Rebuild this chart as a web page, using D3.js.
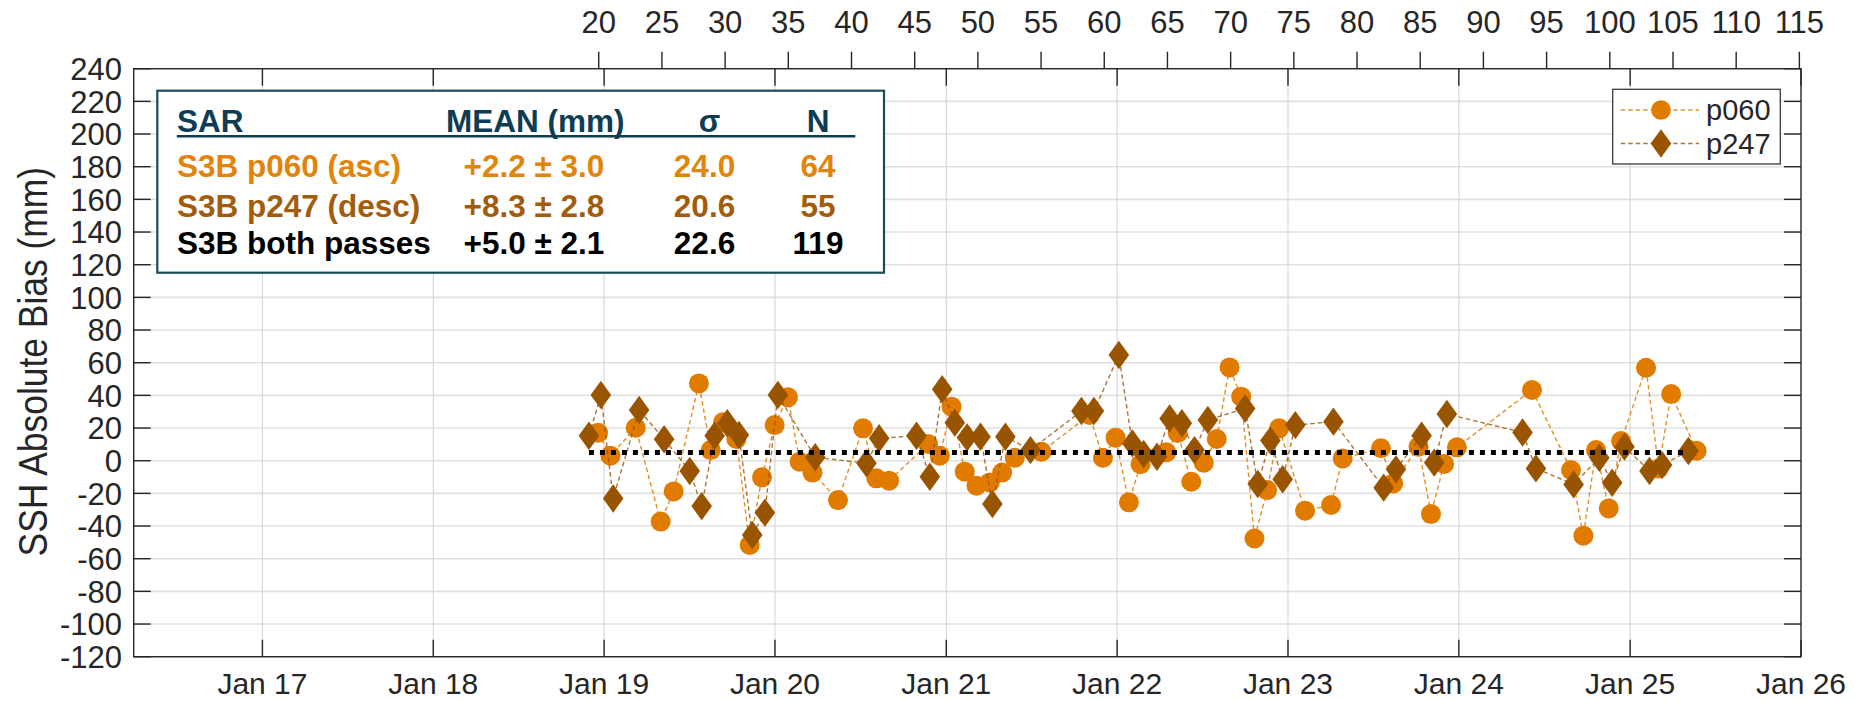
<!DOCTYPE html>
<html>
<head>
<meta charset="utf-8">
<script src="https://cdn.jsdelivr.net/npm/d3@7"></script>
<style>
  html, body { margin: 0; padding: 0; background: #ffffff; }
  svg { display: block; }
  text { font-family: "Liberation Sans", Arial, Helvetica, sans-serif; }
</style>
</head>
<body>
<svg id="chart" width="1855" height="701"></svg>
<script>
// ---------------- DATA ----------------
// pass p060 (ascending): observation time (decimal year) and SSH bias (mm)
const p060Dates = [2018.965, 2019.037, 2019.185, 2019.331, 2019.407, 2019.555, 2019.624, 2019.696, 2019.774, 2019.852,
  2019.924, 2019.998, 2020.076, 2020.144, 2020.219, 2020.368, 2020.514, 2020.592, 2020.666, 2020.894,
  2020.962, 2021.031, 2021.108, 2021.177, 2021.255, 2021.327, 2021.401, 2021.557, 2021.839, 2021.917,
  2021.991, 2022.069, 2022.137, 2022.288, 2022.355, 2022.434, 2022.507, 2022.583, 2022.658, 2022.726,
  2022.804, 2022.878, 2022.948, 2023.100, 2023.252, 2023.320, 2023.544, 2023.616, 2023.764, 2023.837,
  2023.914, 2023.989, 2024.427, 2024.655, 2024.727, 2024.801, 2024.875, 2024.947, 2025.093, 2025.167,
  2025.240, 2025.389];
const p060Bias = [17.1, 3.1, 20.2, -37.3, -18.8, 47.3, 6.5, 23.5, 13.3, -51.6,
  -10.2, 21.8, 38.8, -0.6, -7.3, -24.1, 19.8, -10.8, -12.2, 10.2,
  3.1, 33.1, -6.7, -15.3, -13.3, -7.3, 1.8, 5.5, 28.0, 1.8,
  14.1, -25.5, -2.2, 5.1, 17.0, -12.9, -1.2, 13.3, 57.1, 39.2,
  -47.6, -18.0, 19.8, -30.6, -27.1, 1.4, 7.6, -13.9, 8.6, -32.7,
  -2.0, 8.2, 43.3, -5.7, -45.9, 6.5, -29.2, 12.0, 56.9, -4.7,
  40.8, 6.1];

// pass p247 (descending)
const p247Dates = [2018.911, 2018.981, 2019.053, 2019.205, 2019.351, 2019.501, 2019.571, 2019.647, 2019.721, 2019.789,
  2019.867, 2019.941, 2020.017, 2020.235, 2020.534, 2020.608, 2020.826, 2020.904, 2020.976, 2021.050,
  2021.122, 2021.200, 2021.270, 2021.346, 2021.493, 2021.791, 2021.864, 2022.010, 2022.089, 2022.155,
  2022.233, 2022.307, 2022.379, 2022.453, 2022.531, 2022.749, 2022.823, 2022.897, 2022.969, 2023.043,
  2023.266, 2023.560, 2023.632, 2023.782, 2023.856, 2023.930, 2024.372, 2024.450, 2024.670, 2024.820,
  2024.895, 2024.967, 2025.113, 2025.187, 2025.341];
const p247Bias = [15.3, 40.2, -23.1, 31.0, 13.1, -6.3, -27.8, 15.3, 22.9, 15.7,
  -45.5, -31.8, 40.2, 2.1, -1.6, 13.7, 15.3, -9.8, 43.7, 23.3,
  14.3, 14.7, -26.5, 14.7, 6.5, 30.4, 30.4, 64.7, 10.6, 4.1,
  2.4, 25.9, 22.9, 6.5, 24.9, 32.0, -14.3, 12.3, -11.4, 21.8,
  23.9, -16.5, -5.3, 15.3, -1.2, 28.6, 17.3, -4.7, -14.5, 1.8,
  -13.5, 8.6, -6.3, -2.7, 5.9];

// combined mean (both passes) drawn as the dotted line
const meanBoth = 5.0;

// axis ticks
const yTicks = [-120, -100, -80, -60, -40, -20, 0, 20, 40, 60, 80, 100, 120, 140, 160, 180, 200, 220, 240];
const yearTicks = [2017, 2018, 2019, 2020, 2021, 2022, 2023, 2024, 2025, 2026];
const yearTickLabels = ["Jan 17", "Jan 18", "Jan 19", "Jan 20", "Jan 21", "Jan 22", "Jan 23", "Jan 24", "Jan 25", "Jan 26"];
const cycleTicks = [20, 25, 30, 35, 40, 45, 50, 55, 60, 65, 70, 75, 80, 85, 90, 95, 100, 105, 110, 115];
const cycleDays = 27;
const cycle20Start = Date.UTC(2018, 11, 20, 12);

// statistics table
const tableHeader = ["SAR", "MEAN (mm)", "σ", "N"];
const tableNames = ["S3B p060 (asc)", "S3B p247 (desc)", "S3B both passes"];
const tableMeans = ["+2.2 ± 3.0", "+8.3 ± 2.8", "+5.0 ± 2.1"];
const tableSigma = ["24.0", "20.6", "22.6"];
const tableN = ["64", "55", "119"];

const legendLabels = ["p060", "p247"];

// ---------------- STYLE ----------------
const C060 = "#e07b00";
const C247 = "#995400";
const T060 = "#e2840a";
const T247 = "#a25c0c";
const NAVY = "#0e3c54";
const AX = "#262626";

// ---------------- HELPERS ----------------
function decYear(t) {
  const y = Math.floor(t);
  const s = Date.UTC(y, 0, 1), e = Date.UTC(y + 1, 0, 1);
  return new Date(s + (t - y) * (e - s));
}

const svg = d3.select("#chart");
const L = 133.7, R = 1801, T = 68.7, B = 656.7;

const x = d3.scaleUtc()
  .domain([new Date(Date.UTC(2016, 3, 1)), new Date(Date.UTC(2026, 0, 1))])
  .range([L, R]);
const y = d3.scaleLinear().domain([-120, 240]).range([B, T]);

const cycleDate = c => new Date(cycle20Start + (c - 20) * cycleDays * 86400000);
const yearDate = d => new Date(Date.UTC(d, 0, 1));

// ---------------- GRID ----------------
const grid = svg.append("g");
grid.selectAll("line.h").data(yTicks).join("line")
  .attr("x1", L).attr("x2", R)
  .attr("y1", d => y(d)).attr("y2", d => y(d))
  .attr("stroke", "#e0e0e0").attr("stroke-width", 1.6);
grid.selectAll("line.v").data(yearTicks.slice(0, -1)).join("line")
  .attr("x1", d => x(yearDate(d))).attr("x2", d => x(yearDate(d)))
  .attr("y1", T).attr("y2", B)
  .attr("stroke", "#d6d6d6").attr("stroke-width", 1.1);

// ---------------- SERIES ----------------
const s060 = p060Dates.map((d, i) => ({ t: decYear(d), v: p060Bias[i] }));
const s247 = p247Dates.map((d, i) => ({ t: decYear(d), v: p247Bias[i] }));
const line = d3.line().x(d => x(d.t)).y(d => y(d.v));

const diamond = (r, h) => `M0,${-h}L${r},0L0,${h}L${-r},0Z`;

svg.append("path").datum(s060).attr("d", line)
  .attr("fill", "none").attr("stroke", C060).attr("stroke-opacity", 0.85)
  .attr("stroke-width", 1.4).attr("stroke-dasharray", "4.5,3");
svg.append("g").selectAll("circle").data(s060).join("circle")
  .attr("cx", d => x(d.t)).attr("cy", d => y(d.v)).attr("r", 10)
  .attr("fill", C060);

svg.append("path").datum(s247).attr("d", line)
  .attr("fill", "none").attr("stroke", C247).attr("stroke-opacity", 0.8)
  .attr("stroke-width", 1.4).attr("stroke-dasharray", "4.5,3");
svg.append("g").selectAll("path").data(s247).join("path")
  .attr("transform", d => `translate(${x(d.t)},${y(d.v)})`)
  .attr("d", diamond(10.3, 14.2))
  .attr("fill", C247);

// mean line (both passes)
const meanSpan = [
  { t: decYear(Math.min(p060Dates[0], p247Dates[0])), v: meanBoth },
  { t: decYear(Math.max(p060Dates[p060Dates.length - 1], p247Dates[p247Dates.length - 1]) - 0.05), v: meanBoth }
];
svg.append("path").datum(meanSpan).attr("d", line)
  .attr("fill", "none").attr("stroke", "#000").attr("stroke-width", 5)
  .attr("stroke-dasharray", "5,6");

// ---------------- AXES BOX ----------------
const ax = svg.append("g");
ax.append("rect").attr("x", L).attr("y", T).attr("width", R - L).attr("height", B - T)
  .attr("fill", "none").attr("stroke", AX).attr("stroke-width", 1.4);

const tickLen = 17;
// bottom ticks (inward), mirrored on top
ax.selectAll("line.bt").data(yearTicks).join("line")
  .attr("x1", d => x(yearDate(d))).attr("x2", d => x(yearDate(d)))
  .attr("y1", B).attr("y2", B - tickLen).attr("stroke", AX).attr("stroke-width", 1.4);
ax.selectAll("line.tt").data(yearTicks).join("line")
  .attr("x1", d => x(yearDate(d))).attr("x2", d => x(yearDate(d)))
  .attr("y1", T).attr("y2", T + tickLen).attr("stroke", AX).attr("stroke-width", 1.4);
ax.selectAll("text.bl").data(yearTicks).join("text")
  .attr("x", d => x(yearDate(d))).attr("y", 694)
  .attr("text-anchor", "middle").attr("font-size", 30).attr("fill", AX)
  .text((d, i) => yearTickLabels[i]);

// y ticks left & right (inward)
ax.selectAll("line.yl").data(yTicks).join("line")
  .attr("x1", L).attr("x2", L + tickLen).attr("y1", d => y(d)).attr("y2", d => y(d))
  .attr("stroke", AX).attr("stroke-width", 1.4);
ax.selectAll("line.yr").data(yTicks).join("line")
  .attr("x1", R).attr("x2", R - tickLen).attr("y1", d => y(d)).attr("y2", d => y(d))
  .attr("stroke", AX).attr("stroke-width", 1.4);
ax.selectAll("text.yl").data(yTicks).join("text")
  .attr("x", 122).attr("y", d => y(d)).attr("dy", "0.36em")
  .attr("text-anchor", "end").attr("font-size", 31).attr("fill", AX)
  .text(d => d);

// top cycle axis (outward)
ax.selectAll("line.ct").data(cycleTicks).join("line")
  .attr("x1", d => x(cycleDate(d))).attr("x2", d => x(cycleDate(d)))
  .attr("y1", T).attr("y2", T - tickLen).attr("stroke", AX).attr("stroke-width", 1.4);
ax.selectAll("text.ct").data(cycleTicks).join("text")
  .attr("x", d => x(cycleDate(d))).attr("y", 33.3)
  .attr("text-anchor", "middle").attr("font-size", 31).attr("fill", AX)
  .text(d => d);

// y label
svg.append("text")
  .attr("transform", `translate(47,${(T + B) / 2 - 1}) rotate(-90) scale(0.885,1)`)
  .attr("text-anchor", "middle").attr("font-size", 40).attr("fill", AX)
  .text("SSH Absolute Bias (mm)");

// ---------------- LEGEND ----------------
const lg = svg.append("g");
lg.append("rect").attr("x", 1612.7).attr("y", 89.3).attr("width", 167.6).attr("height", 74.7)
  .attr("fill", "#fff").attr("stroke", "#3a3a3a").attr("stroke-width", 1.3);
const legY = [110, 143.5];
legendLabels.forEach((lab, i) => {
  const col = i === 0 ? C060 : C247;
  lg.append("line").attr("x1", 1620.7).attr("x2", 1699).attr("y1", legY[i]).attr("y2", legY[i])
    .attr("stroke", col).attr("stroke-opacity", 0.8).attr("stroke-width", 1.4).attr("stroke-dasharray", "4.5,3");
  if (i === 0) {
    lg.append("circle").attr("cx", 1661).attr("cy", legY[i]).attr("r", 9.8).attr("fill", col);
  } else {
    lg.append("path").attr("transform", `translate(1661,${legY[i]})`).attr("d", diamond(10.3, 14.2)).attr("fill", col);
  }
  lg.append("text").attr("x", 1706).attr("y", legY[i]).attr("dy", "0.36em")
    .attr("font-size", 29).attr("fill", AX).text(lab);
});

// ---------------- STATS TABLE ----------------
const tb = svg.append("g").attr("font-weight", "bold").attr("font-size", 31.5);
tb.append("rect").attr("x", 157.3).attr("y", 90.7).attr("width", 726.7).attr("height", 182)
  .attr("fill", "#fff").attr("stroke", "#1c4a5d").attr("stroke-width", 2.2);
const hdrY = 131.7;
tb.append("text").attr("x", 177).attr("y", hdrY).attr("fill", NAVY).text(tableHeader[0]);
tb.append("text").attr("x", 446).attr("y", hdrY).attr("fill", NAVY).text(tableHeader[1]);
tb.append("text").attr("x", 709.5).attr("y", hdrY).attr("fill", NAVY).attr("text-anchor", "middle").text(tableHeader[2]);
tb.append("text").attr("x", 818).attr("y", hdrY).attr("fill", NAVY).attr("text-anchor", "middle").text(tableHeader[3]);
tb.append("line").attr("x1", 176.8).attr("x2", 855.3).attr("y1", 136.3).attr("y2", 136.3)
  .attr("stroke", NAVY).attr("stroke-width", 2.6);
const rowY = [177.3, 216.5, 254];
const rowCol = [T060, T247, "#000"];
tableNames.forEach((nm, i) => {
  tb.append("text").attr("x", 177).attr("y", rowY[i]).attr("fill", rowCol[i]).text(nm);
  tb.append("text").attr("x", 463.5).attr("y", rowY[i]).attr("fill", rowCol[i]).text(tableMeans[i]);
  tb.append("text").attr("x", 704.5).attr("y", rowY[i]).attr("fill", rowCol[i]).attr("text-anchor", "middle").text(tableSigma[i]);
  tb.append("text").attr("x", 818).attr("y", rowY[i]).attr("fill", rowCol[i]).attr("text-anchor", "middle").text(tableN[i]);
});
</script>
</body>
</html>
